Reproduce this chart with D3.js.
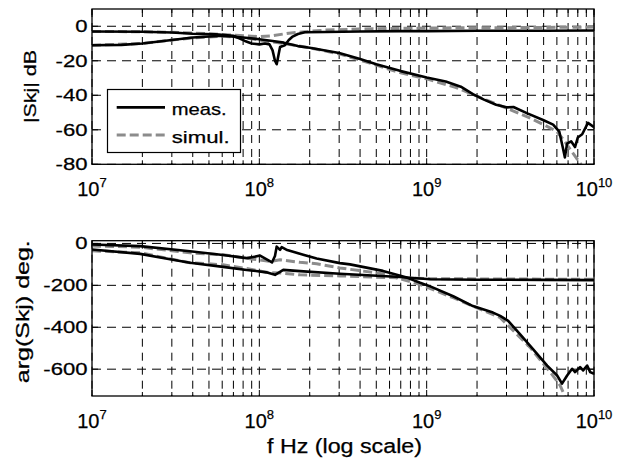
<!DOCTYPE html>
<html>
<head>
<meta charset="utf-8">
<script src="https://cdn.jsdelivr.net/npm/d3@7"></script>
<style>
  html, body { margin: 0; padding: 0; background: #fff; }
  text { font-family: "Liberation Sans", Arial, sans-serif; fill: #000; stroke: #000; stroke-width: 0.25px; }
</style>
</head>
<body>
<svg id="chart" width="627" height="459"></svg>
<script>
// ---------------- data ----------------
const xTickValues = [1e7, 1e8, 1e9, 1e10];
const xTickExponents = ["7", "8", "9", "10"];
const magTicks = [0, -20, -40, -60, -80];
const phaseTicks = [0, -200, -400, -600];
const legendLabels = ["meas.", "simul."];

// |S| through (measured)
const magThroughMeasFreq = [1e7, 2e7, 3e7, 4e7, 5.5e7, 7e7, 8.2e7, 9e7, 1e8, 1.08e8, 1.15e8, 1.2e8, 1.24e8, 1.27e8, 1.3e8, 1.33e8, 1.42e8, 1.5e8, 1.57e8, 1.7e8, 1.87e8, 2.5e8, 4e8, 7e8, 1e9, 2e9, 5e9, 1e10];
const magThroughMeas = [-3, -3.2, -3.6, -4.3, -4.7, -5.5, -8.5, -10, -10.5, -10, -10.5, -14, -20, -22, -17, -12, -11, -8, -6.2, -4.5, -3.5, -3.3, -3, -2.8, -2.8, -2.6, -2.6, -2.5];
// |S| through (simulated)
const magThroughSimFreq = [1e7, 2e7, 3e7, 5e7, 7e7, 1e8, 1.2e8, 1.5e8, 1.8e8, 2.5e8, 4e8, 1e9, 3e9, 1e10];
const magThroughSim = [-3, -3.2, -3.5, -4.3, -5.2, -6, -5.5, -4, -3.3, -2.2, -1.6, -1, -0.8, -0.5];
// |S| coupling (measured)
const magCoupMeasFreq = [1e7, 1.5e7, 2e7, 3e7, 4e7, 6e7, 8e7, 1e8, 1.2e8, 1.4e8, 1.7e8, 2e8, 3e8, 4e8, 5e8, 7e8, 1e9, 1.3e9, 1.6e9, 1.9e9, 2.2e9, 2.6e9, 3e9, 3.3e9, 4e9, 5e9, 5.7e9, 6.2e9, 6.5e9, 6.7e9, 6.9e9, 7.3e9, 7.7e9, 8.0e9, 8.5e9, 9.2e9, 1e10];
const magCoupMeas = [-11, -10.8, -10, -8, -6.5, -5.5, -6.5, -7.5, -8.5, -9.5, -11.5, -12.5, -15.5, -19, -22, -26, -29.7, -32, -35, -39.5, -42.5, -45.5, -47, -46.8, -50.5, -54.5, -57, -61, -70, -76, -68, -66.7, -70, -64.5, -62.6, -56, -58.5];
// |S| coupling (simulated)
const magCoupSimFreq = [1e7, 2e7, 3e7, 4e7, 6e7, 8e7, 1e8, 1.4e8, 2e8, 3e8, 5e8, 7e8, 1e9, 1.5e9, 2e9, 3e9, 4e9, 5e9, 6e9, 6.6e9, 7.3e9, 8e9, 8.5e9];
const magCoupSim = [-11, -10, -8, -6.8, -5.8, -6.5, -8, -10, -12.5, -16, -22.5, -27, -30.5, -35.5, -40.5, -47.5, -52.5, -57, -61, -66, -72, -77.5, -81];

// arg(S) A (measured) - ends steep
const phaseAMeasFreq = [1e7, 1.94e7, 3.85e7, 6.07e7, 8.4e7, 9.2e7, 1.01e8, 1.1e8, 1.19e8, 1.24e8, 1.27e8, 1.33e8, 1.36e8, 1.45e8, 1.83e8, 2.2e8, 3.03e8, 3.48e8, 5.48e8, 7.6e8, 9.14e8, 1.05e9, 1.44e9, 1.89e9, 2.49e9, 2.75e9, 3.07e9, 3.61e9, 4.32e9, 5.25e9, 6.02e9, 6.44e9, 6.91e9, 7.4e9, 7.71e9, 8.26e9, 8.61e9, 9.1e9, 9.49e9, 1e10];
const phaseAMeas = [-5, -13, -37, -55, -70, -65, -58, -75, -91, -60, -15, -31, -18, -30, -54, -72, -94, -100, -131, -163, -188, -205, -252, -299, -330, -346, -370, -433, -504, -583, -630, -669, -630, -598, -614, -590, -606, -583, -614, -622];
// arg(S) A (simulated)
const phaseASimFreq = [1e7, 1.94e7, 3.85e7, 6.07e7, 9.2e7, 1.16e8, 1.33e8, 1.75e8, 2.2e8, 3.03e8, 5.48e8, 9.14e8, 1.44e9, 1.89e9, 2.75e9, 3.15e9, 4.15e9, 5.47e9, 6.27e9, 6.8e9];
const phaseASim = [-12, -18, -45, -54, -75, -86, -78, -90, -97, -117, -145, -196, -259, -299, -354, -401, -496, -614, -677, -740];
// arg(S) B (measured) - ends flat
const phaseBMeasFreq = [1e7, 1.94e7, 3.85e7, 6.07e7, 8.4e7, 9.2e7, 1.1e8, 1.24e8, 1.3e8, 1.39e8, 1.75e8, 3.03e8, 6.93e8, 1.05e9, 2e9, 5e9, 1e10];
const phaseBMeas = [-29, -50, -92, -112, -127, -130, -138, -150, -140, -126, -132, -145, -160, -171, -173, -174, -175];
// arg(S) B (simulated)
const phaseBSimFreq = [1e7, 1.94e7, 3.85e7, 6.07e7, 8.4e7, 1.16e8, 1.39e8, 1.75e8, 3.03e8, 6e8, 1.05e9, 3e9, 1e10];
const phaseBSim = [-35, -45, -92, -102, -120, -140, -142, -150, -155, -163, -168, -170, -171];

// ---------------- layout ----------------
const svg = d3.select("#chart");
const left = 92, right = 594;
const top1 = 9, bot1 = 164.3;
const top2 = 240.7, bot2 = 396;

const x = d3.scaleLog().domain([1e7, 1e10]).range([left, right]);
const yMag = d3.scaleLinear().domain([-80, 10]).range([bot1, top1]);
const yPh = d3.scaleLinear().domain([-728, 13]).range([bot2, top2]);

const measColor = "#000";
const simColor = "#8c8c8c";

function panel(id, yScale, yTicks, top, bot) {
  const g = svg.append("g");
  const defs = svg.append("defs");
  defs.append("clipPath").attr("id", id).append("rect")
    .attr("x", left).attr("y", top).attr("width", right - left).attr("height", bot - top);
  // grid
  const gridV = x.ticks();
  g.selectAll(null).data(gridV).enter().append("line")
    .attr("x1", d => x(d)).attr("x2", d => x(d)).attr("y1", top).attr("y2", bot)
    .attr("stroke", "#000").attr("stroke-width", 1).attr("stroke-dasharray", "8,6");
  g.selectAll(null).data(yTicks).enter().append("line")
    .attr("x1", left).attr("x2", right).attr("y1", d => yScale(d)).attr("y2", d => yScale(d))
    .attr("stroke", "#000").attr("stroke-width", 1).attr("stroke-dasharray", "9,6");
  // tick marks (inside)
  gridV.forEach(d => {
    const major = xTickValues.includes(d);
    const len = major ? 6 : 4;
    g.append("line").attr("x1", x(d)).attr("x2", x(d)).attr("y1", bot).attr("y2", bot - len).attr("stroke", "#000");
    g.append("line").attr("x1", x(d)).attr("x2", x(d)).attr("y1", top).attr("y2", top + len).attr("stroke", "#000");
  });
  yTicks.forEach(d => {
    g.append("line").attr("x1", left).attr("x2", left + 6).attr("y1", yScale(d)).attr("y2", yScale(d)).attr("stroke", "#000");
    g.append("line").attr("x1", right).attr("x2", right - 6).attr("y1", yScale(d)).attr("y2", yScale(d)).attr("stroke", "#000");
  });
  const plot = g.append("g").attr("clip-path", `url(#${id})`);
  // frame
  g.append("rect").attr("x", left).attr("y", top).attr("width", right - left).attr("height", bot - top)
    .attr("fill", "none").attr("stroke", "#000").attr("stroke-width", 1.3);
  // y tick labels
  yTicks.forEach(d => {
    g.append("text").attr("text-anchor", "end").attr("font-size", 16)
      .attr("transform", `translate(87.5,${yScale(d) + 5.8}) scale(1.38,1)`)
      .text(d);
  });
  // x tick labels
  xTickValues.forEach((d, i) => {
    const t = g.append("text").attr("x", x(d)).attr("y", bot + 31.7)
      .attr("text-anchor", "middle").attr("font-size", 20);
    t.append("tspan").text("10");
    t.append("tspan").attr("font-size", 13).attr("dy", -9).text(xTickExponents[i]);
  });
  return plot;
}

function drawLine(plot, freqs, vals, yScale, color, dashed) {
  const pts = freqs.map((f, i) => [f, vals[i]]);
  const line = d3.line().x(d => x(d[0])).y(d => yScale(d[1]));
  plot.append("path").datum(pts).attr("d", line)
    .attr("fill", "none").attr("stroke", color)
    .attr("stroke-width", dashed ? 3 : 2.6)
    .attr("stroke-linejoin", "round")
    .attr("stroke-dasharray", dashed ? "9,4" : null);
}

const p1 = panel("clip1", yMag, magTicks, top1, bot1);
drawLine(p1, magThroughSimFreq, magThroughSim, yMag, simColor, true);
drawLine(p1, magCoupSimFreq, magCoupSim, yMag, simColor, true);
drawLine(p1, magThroughMeasFreq, magThroughMeas, yMag, measColor, false);
drawLine(p1, magCoupMeasFreq, magCoupMeas, yMag, measColor, false);

const p2 = panel("clip2", yPh, phaseTicks, top2, bot2);
drawLine(p2, phaseASimFreq, phaseASim, yPh, simColor, true);
drawLine(p2, phaseBSimFreq, phaseBSim, yPh, simColor, true);
drawLine(p2, phaseAMeasFreq, phaseAMeas, yPh, measColor, false);
drawLine(p2, phaseBMeasFreq, phaseBMeas, yPh, measColor, false);

// axis labels
svg.append("text").attr("text-anchor", "middle").attr("font-size", 17)
  .attr("transform", "translate(36,86.5) rotate(-90)")
  .attr("textLength", 73).attr("lengthAdjust", "spacingAndGlyphs")
  .text("|Skj| dB");
svg.append("text").attr("text-anchor", "middle").attr("font-size", 18)
  .attr("transform", "translate(29,311.7) rotate(-90)")
  .attr("textLength", 143).attr("lengthAdjust", "spacingAndGlyphs")
  .text("arg(Skj) deg.");
svg.append("text").attr("text-anchor", "middle").attr("font-size", 20)
  .attr("x", 344.5).attr("y", 453)
  .attr("textLength", 155).attr("lengthAdjust", "spacingAndGlyphs")
  .text("f Hz (log scale)");

// legend
const lg = svg.append("g");
lg.append("rect").attr("x", 107.5).attr("y", 89.5).attr("width", 133).attr("height", 63)
  .attr("fill", "#fff").attr("stroke", "#000").attr("stroke-width", 1.2);
lg.append("line").attr("x1", 116.7).attr("x2", 165).attr("y1", 107.3).attr("y2", 107.3)
  .attr("stroke", measColor).attr("stroke-width", 2.8);
lg.append("line").attr("x1", 116.7).attr("x2", 165).attr("y1", 135).attr("y2", 135)
  .attr("stroke", simColor).attr("stroke-width", 3).attr("stroke-dasharray", "9,4");
lg.append("text").attr("x", 171.7).attr("y", 114.5).attr("font-size", 17)
  .attr("textLength", 55).attr("lengthAdjust", "spacingAndGlyphs").text(legendLabels[0]);
lg.append("text").attr("x", 171.7).attr("y", 142.5).attr("font-size", 17)
  .attr("textLength", 58).attr("lengthAdjust", "spacingAndGlyphs").text(legendLabels[1]);
</script>
</body>
</html>
